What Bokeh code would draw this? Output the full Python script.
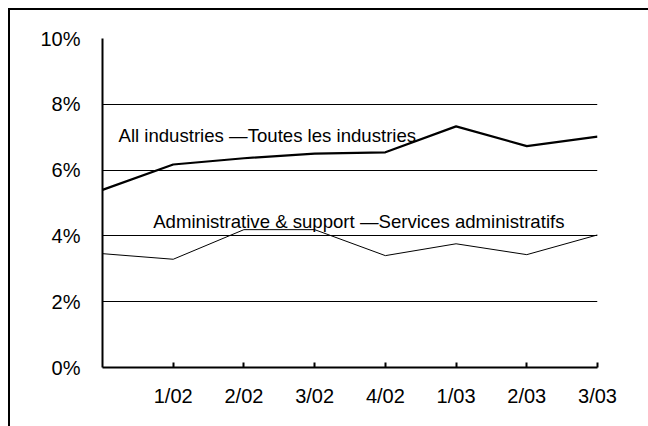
from bokeh.plotting import figure
from bokeh.models import Range1d, FixedTicker, Label, GlobalInlineStyleSheet
from bokeh.embed import file_html
from bokeh.resources import INLINE

# ---- data ----
x_idx = [0, 1, 2, 3, 4, 5, 6, 7]
x_tick_pos = [1, 2, 3, 4, 5, 6, 7]
x_tick_labels = ["1/02", "2/02", "3/02", "4/02", "1/03", "2/03", "3/03"]
all_industries = [5.40, 6.17, 6.36, 6.50, 6.54, 7.33, 6.73, 7.02]
admin_support = [3.46, 3.29, 4.19, 4.19, 3.40, 3.76, 3.43, 4.03]
y_ticks = [0, 2, 4, 6, 8, 10]
y_tick_labels = ["0%", "2%", "4%", "6%", "8%", "10%"]
label_all = "All industries \u2014Toutes les industries"
label_admin = "Administrative & support \u2014Services administratifs"

FONT = "Liberation Sans"

p = figure(width=648, height=426, output_backend="svg", toolbar_location=None,
           x_range=Range1d(0, 7), y_range=Range1d(0, 10),
           min_border_left=102, min_border_right=51, min_border_top=38, min_border_bottom=59)
p.stylesheets = [GlobalInlineStyleSheet(css="html, body { margin: 0; padding: 0; overflow: hidden; }")]
# outer frame of the chart (top and left edges only), drawn as CSS background
p.styles = {
    "background-color": "white",
    "background-image": "linear-gradient(#000, #000), linear-gradient(#000, #000)",
    "background-size": "640px 2px, 2px 418px",
    "background-position": "8px 8px, 8px 8px",
    "background-repeat": "no-repeat",
}
p.outline_line_color = None
p.background_fill_color = "white"
p.border_fill_color = None

p.xgrid.grid_line_color = None
p.ygrid.grid_line_color = "black"
p.ygrid.grid_line_width = 1
p.ygrid.ticker = FixedTicker(ticks=y_ticks)

# y axis
p.yaxis.ticker = FixedTicker(ticks=y_ticks)
p.yaxis.major_label_overrides = {t: l for t, l in zip(y_ticks, y_tick_labels)}
p.yaxis.axis_line_color = "black"
p.yaxis.axis_line_width = 2
p.yaxis.major_tick_line_color = None
p.yaxis.minor_tick_line_color = None
p.yaxis.major_label_standoff = 16
p.yaxis.major_label_text_font = FONT
p.yaxis.major_label_text_font_size = "20px"
p.yaxis.major_label_text_color = "black"

# x axis
p.xaxis.ticker = FixedTicker(ticks=x_tick_pos)
p.xaxis.major_label_overrides = {t: l for t, l in zip(x_tick_pos, x_tick_labels)}
p.xaxis.axis_line_color = "black"
p.xaxis.axis_line_width = 2
p.xaxis.major_tick_line_color = "black"
p.xaxis.major_tick_line_width = 2
p.xaxis.major_tick_in = 5
p.xaxis.major_tick_out = 0
p.xaxis.minor_tick_line_color = None
p.xaxis.major_label_standoff = 17
p.xaxis.major_label_text_font = FONT
p.xaxis.major_label_text_font_size = "20px"
p.xaxis.major_label_text_color = "black"

p.line(x_idx, admin_support, line_color="black", line_width=1)
p.line(x_idx, all_industries, line_color="black", line_width=2.2)

p.add_layout(Label(x=0.226, y=7.05, text=label_all, text_font=FONT,
                   text_font_size="18.6px", text_color="black", text_baseline="alphabetic"))
p.add_layout(Label(x=0.717, y=4.45, text=label_admin, text_font=FONT,
                   text_font_size="18.6px", text_color="black", text_baseline="alphabetic"))

open("out.html", "w").write(file_html(p, INLINE))
